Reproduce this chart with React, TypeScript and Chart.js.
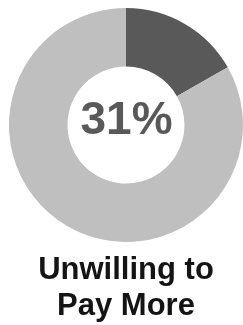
import React, { useEffect, useRef } from "react";
import { Chart, registerables } from "chart.js";

Chart.register(...registerables);

const categories = ["Unwilling to Pay More", "Other"];
const sliceValues = [16.8, 83.2];
const sliceColors = ["#595959", "#bfbfbf"];
const centerLabel = "31%";
const titleLines = ["Unwilling to", "Pay More"];

const centerTextPlugin = {
  id: "centerText",
  afterDatasetsDraw(chart: any) {
    const meta = chart.getDatasetMeta(0);
    const arc = meta.data[0];
    if (!arc) return;
    const { ctx } = chart;
    ctx.save();
    ctx.font = "bold 46px 'Liberation Sans', Arial, sans-serif";
    ctx.fillStyle = "#595959";
    ctx.textAlign = "center";
    ctx.textBaseline = "alphabetic";
    ctx.fillText(centerLabel, arc.x + 0.5, arc.y + 9);
    ctx.restore();
  },
};

export default function App() {
  const ref = useRef<HTMLCanvasElement | null>(null);
  useEffect(() => {
    if (!ref.current) return;
    const chart = new Chart(ref.current, {
      type: "doughnut",
      data: {
        labels: categories,
        datasets: [
          {
            data: sliceValues,
            backgroundColor: sliceColors,
            borderWidth: 0,
            hoverOffset: 0,
          },
        ],
      },
      options: {
        responsive: false,
        animation: false,
        cutout: "50%",
        layout: { padding: { top: 8, left: 9, right: 0, bottom: 0 } },
        plugins: {
          legend: { display: false },
          tooltip: { enabled: false },
          title: {
            display: true,
            position: "bottom",
            text: titleLines,
            color: "#141414",
            font: { family: "'Liberation Sans', Arial, sans-serif", size: 31, weight: "bold", lineHeight: 1.16 },
            padding: { top: 10.4, bottom: 0.7 },
          },
        },
      },
      plugins: [centerTextPlugin],
    });
    return () => chart.destroy();
  }, []);
  return (
    <div style={{ position: "absolute", left: 0, top: 0, width: 243, height: 325, background: "#fff" }}>
      <canvas ref={ref} width={243} height={325} style={{ display: "block" }} />
    </div>
  );
}
